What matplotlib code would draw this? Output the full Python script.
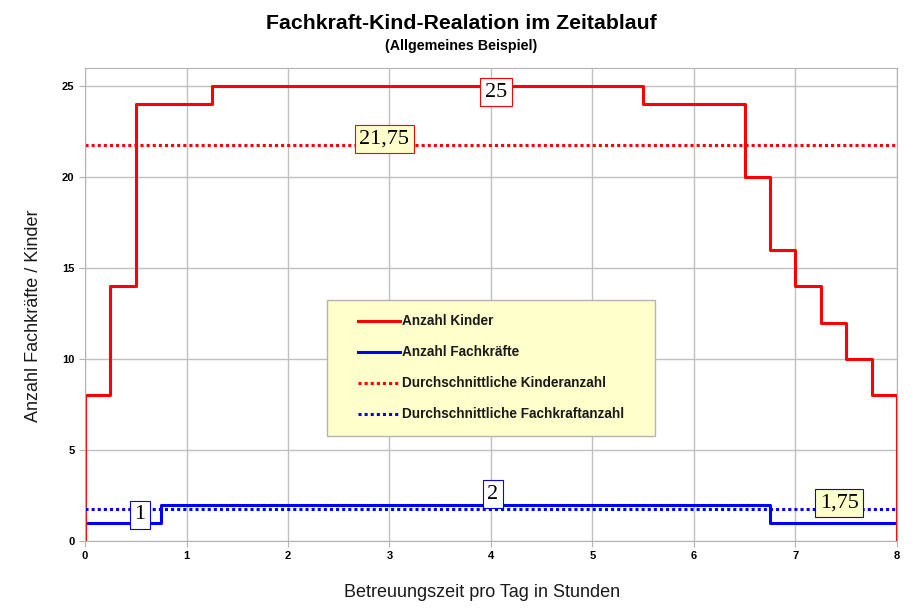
import matplotlib
matplotlib.use("Agg")
import matplotlib.pyplot as plt
from matplotlib.patches import Rectangle

plt.rcParams['font.family'] = ['Liberation Sans', 'DejaVu Sans']

# Betreuungszeit (Stunden) und Werte, Stufen jeweils ab dem Zeitpunkt
kinder_t = [0, 0, 0.25, 0.5, 1.25, 5.5, 6.5, 6.75, 7, 7.25, 7.5, 7.75, 8]
kinder = [0, 8, 14, 24, 25, 24, 20, 16, 14, 12, 10, 8, 0]
fach_t = [0, 0, 0.75, 6.75, 8]
fach = [0, 1, 2, 1, 1]
avg_kinder = 21.75
avg_fach = 1.75

# Beschriftungen: (x, y, text, randfarbe, fuellfarbe)
labels = [
    (4.05, 24.67, "25", "red", "white"),
    (2.95, 22.1, "21,75", "red", "#ffffcc"),
    (0.54, 1.43, "1", "blue", "white"),
    (4.02, 2.58, "2", "blue", "white"),
    (7.43, 2.09, "1,75", "blue", "#ffffcc"),
]

fig = plt.figure(figsize=(9.23, 6.11), dpi=100)
ax = fig.add_axes([0.0921, 0.1146, 0.8797, 0.7741])

ax.step(fach_t, fach, where='post', color='blue', lw=2.2, label='Anzahl Fachkräfte')
ax.step(kinder_t, kinder, where='post', color='red', lw=2.2, label='Anzahl Kinder')
ax.axhline(avg_kinder, color='red', lw=2.2, ls=(0, (1, 1)), label='Durchschnittliche Kinderanzahl')
ax.axhline(avg_fach, color='blue', lw=2.2, ls=(0, (1, 1)), label='Durchschnittliche Fachkraftanzahl')

for x, y, txt, ec, fc in labels:
    ax.text(x, y, txt, fontsize=16, family=['Liberation Serif', 'DejaVu Serif'],
            ha='center', va='center', zorder=5,
            bbox=dict(boxstyle='square,pad=0.2', fc=fc, ec=ec, lw=0.8))

ax.set_xlim(0, 8)
ax.set_ylim(0, 26)
ax.set_yticks([0, 5, 10, 15, 20, 25])
ax.set_xticks(range(9))
ax.grid(True, color='#c0c0c0', lw=1)
ax.set_axisbelow(True)
for s in ax.spines.values():
    s.set_color('#b3b3b3')
ax.tick_params(colors='#b3b3b3', labelcolor='black', length=4, labelsize=8)
for t in ax.get_xticklabels() + ax.get_yticklabels():
    t.set_fontweight('bold')

ax.set_xlabel('Betreuungszeit pro Tag in Stunden', fontsize=13, color='#1a1a1a', va='center')
ax.set_ylabel('Anzahl Fachkräfte / Kinder', fontsize=13, color='#1a1a1a', va='center')
ax.xaxis.set_label_coords(0.489, -0.108)
ax.yaxis.set_label_coords(-0.064, 0.476)

fig.text(0.5, 0.962, 'Fachkraft-Kind-Realation im Zeitablauf', ha='center',
         va='center', fontsize=15.3, fontweight='bold')
fig.text(0.5, 0.925, '(Allgemeines Beispiel)', ha='center', va='center',
         fontsize=10.3, fontweight='bold')

# Legendenrahmen
ax.add_patch(Rectangle((0.298, 0.222), 0.404, 0.2875, transform=ax.transAxes,
                       fc='#ffffcc', ec='#b3b3b3', lw=1, zorder=5.5))

h, l = ax.get_legend_handles_labels()
order = [1, 0, 2, 3]
leg = ax.legend([h[i] for i in order], [l[i] for i in order],
                loc='center', bbox_to_anchor=(0.5, 0.366),
                prop={'weight': 'bold', 'size': 9.8}, frameon=False,
                handlelength=3.1, handletextpad=0.1, labelspacing=1.25,
                borderpad=0, borderaxespad=0)
leg.set_zorder(6)
for line in leg.get_lines():
    line.set_linewidth(2.2)
for t in leg.get_texts():
    t.set_color('#1a1a1a')

fig.savefig('out.png', dpi=100)
